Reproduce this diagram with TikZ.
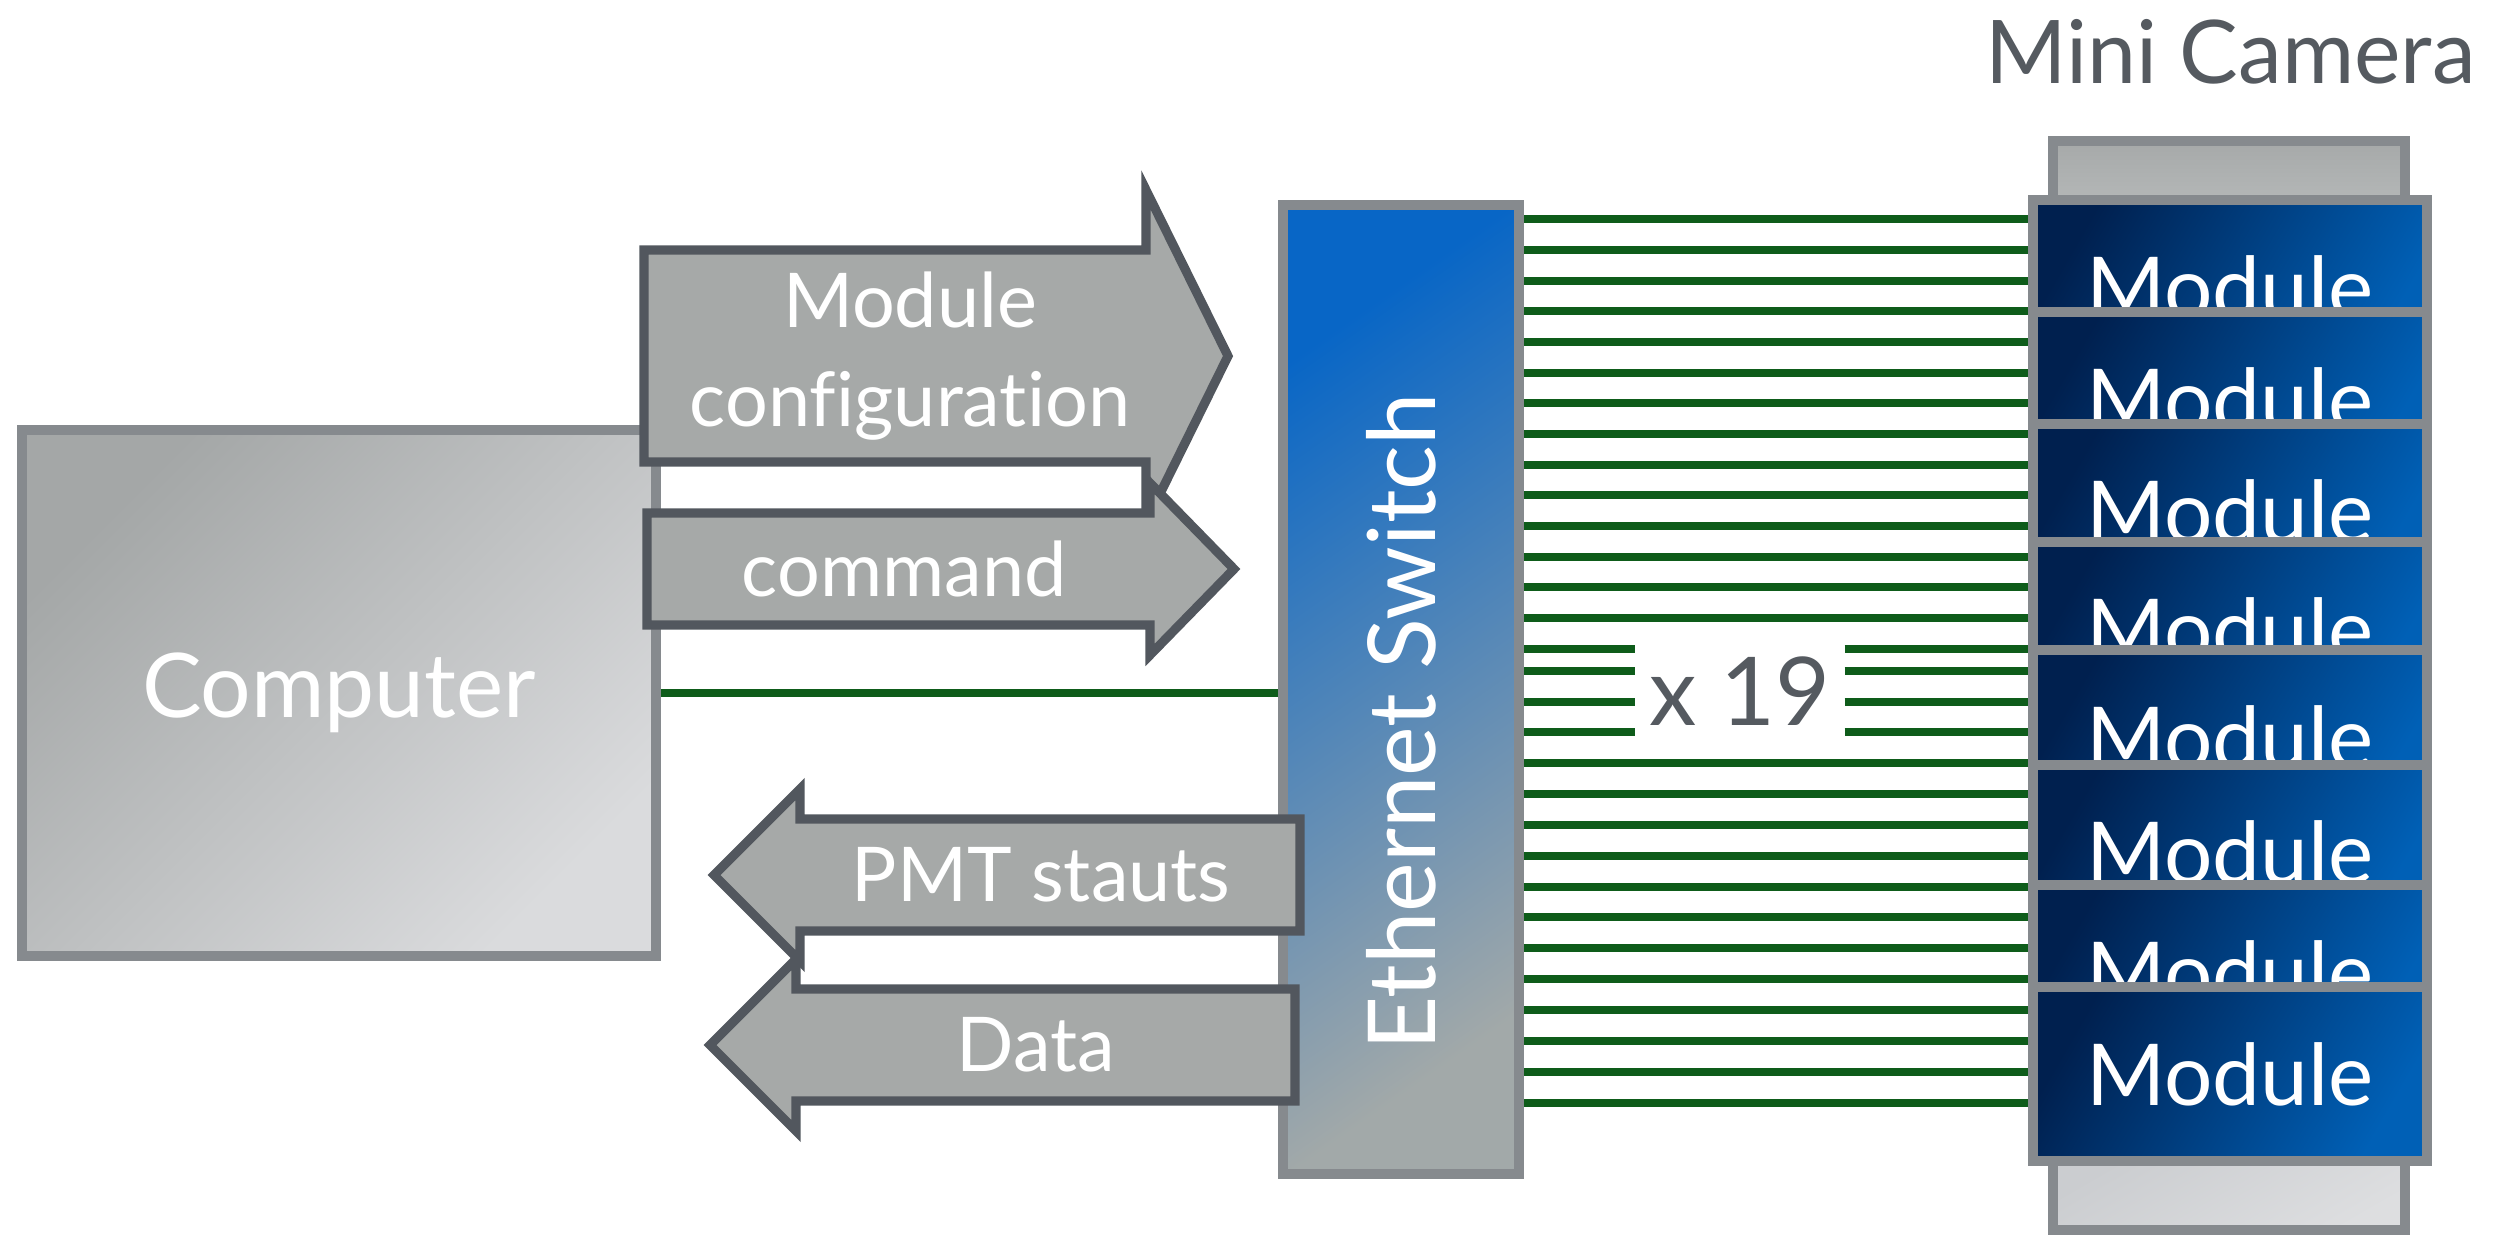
\documentclass[tikz,border=0pt]{standalone}
\usepackage{fontspec}
\setmainfont{Lato}[Ligatures=NoCommon]
\usetikzlibrary{positioning}
\usetikzlibrary{backgrounds}

\definecolor{framegray}{HTML}{868A8E}
\definecolor{arrowline}{HTML}{52575E}
\definecolor{arrowfill}{HTML}{A6A9A8}
\definecolor{ethgreen}{HTML}{0E5C1A}
\definecolor{labelgray}{HTML}{555A60}
\definecolor{pcdark}{HTML}{A4A7A7}
\definecolor{pclight}{HTML}{DADBDD}
\definecolor{swblue}{HTML}{0866C6}
\definecolor{swgray}{HTML}{A2A9A9}
\definecolor{modnavy}{HTML}{00204F}
\definecolor{modblue}{HTML}{0060B6}
\definecolor{capdark}{HTML}{A6A9A9}
\definecolor{caplight}{HTML}{B4B7B7}
\definecolor{basedark}{HTML}{CBCDD0}
\definecolor{baselight}{HTML}{DDDEE0}

\tikzset{
  box/.style={draw=framegray, line width=2.6pt, inner sep=0pt},
  blockarrow/.style={draw=arrowline, fill=arrowfill, line width=2.6pt, line join=miter},
  arrowtext/.style={text=white, font=\fontsize{21.5}{28}\selectfont},
  eth/.style={ethgreen, line width=2.4pt},
  module/.style={box, minimum width=39.4mm, minimum height=17.4mm,
    top color=modnavy, bottom color=modblue, shading angle=60,
    text=white, font=\fontsize{24.3}{30}\selectfont},
}

\begin{document}
\begin{tikzpicture}[x=0.1mm, y=-0.1mm]
\useasboundingbox (0,0) rectangle (2504,1239);

% computer
\node[box, minimum width=63.4mm, minimum height=52.6mm, top color=pcdark, bottom color=pclight, shading angle=45,
  text=white, font=\fontsize{25.4}{30}\selectfont] (pc) at (339,693) {Computer};

% arrows to the switch
\draw[blockarrow] (644,250) -- (1146,250) -- (1146,190) -- (1228,356) -- (1146,522) -- (1146,462) -- (644,462) -- cycle;
\node[arrowtext, align=center] (cfg) at (910,356) {Module\\configuration};

\draw[blockarrow] (647,513) -- (1150,513) -- (1150,483) -- (1234,569) -- (1150,655) -- (1150,625) -- (647,625) -- cycle;
\node[arrowtext] (cmd) at (904,569) {command};

% switch
\node[box, minimum width=23.6mm, minimum height=96.9mm, top color=swblue, bottom color=swgray, shading angle=35] (sw) at (1401,689.5) {};
\node[rotate=90, text=white, font=\fontsize{26.7}{30}\selectfont] (swtext) at (1401,722) {Ethernet Switch};

% arrows back to the computer
\draw[blockarrow] (1300,819) -- (800,819) -- (800,789) -- (714,875) -- (800,961) -- (800,931) -- (1300,931) -- cycle;
\node[arrowtext] (pmt) at (1041,875) {PMT stauts};

\draw[blockarrow] (1295,989) -- (796,989) -- (796,959) -- (710,1045) -- (796,1131) -- (796,1101) -- (1295,1101) -- cycle;
\node[arrowtext] (data) at (1036,1045) {Data};

% mini camera
\node[box, minimum width=35.2mm, minimum height=5.9mm, top color=capdark, bottom color=caplight] (topcap) at (2229,170.5) {};
\node[box, minimum width=35.2mm, minimum height=7mm, top color=basedark, bottom color=baselight, shading angle=30] (basecap) at (2229,1195) {};

\foreach \y [count=\i] in {287,399,511,629,737,852,972,1074}
  \node[module] (m\i) at (2230,\y) {Module};

\node[anchor=east, text=labelgray, font=\fontsize{25}{30}\selectfont] (cam) at (2488,52) {Mini Camera};

\node[minimum width=20.8mm, inner sep=0pt, text=labelgray, font=\fontsize{27}{30}\selectfont] (x19) at (1740,691) {x 19};

% cables
\begin{pgfonlayer}{background}
\draw[eth] (pc.east) -- (pc.east -| sw.west);
\foreach \y in {219,250,281,311,342,373,403,434,465,495,526,557,587,618,763,794,825,856,887,917,948,979,1010,1041,1072,1103}
  \draw[eth] (sw.east |- 0,\y) -- (m1.west |- 0,\y);
\foreach \y in {649,671,702,732}{
  \draw[eth] (sw.east |- 0,\y) -- (x19.west |- 0,\y);
  \draw[eth] (x19.east |- 0,\y) -- (m1.west |- 0,\y);
}
\end{pgfonlayer}

\end{tikzpicture}
\end{document}
